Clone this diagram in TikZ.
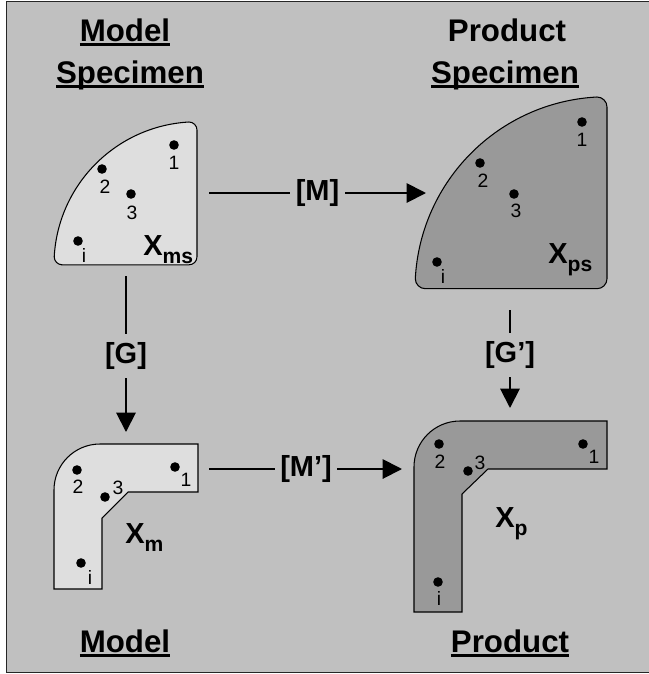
\documentclass[tikz,border=0pt]{standalone}
\usepackage{fontspec}
\setmainfont{Liberation Sans}
\usetikzlibrary{arrows.meta}
\definecolor{panelgray}{RGB}{192,192,192}
\definecolor{modelfill}{RGB}{222,222,222}
\definecolor{prodfill}{RGB}{153,153,153}
% underline drawn as a rule below the baseline
\newcommand{\ulin}[1]{\setbox0\hbox{#1}\rlap{\vrule height -1.3pt depth 2.9pt width \wd0}\box0}
% big X with a lowered index
\newcommand{\xlab}[1]{{\fontsize{16.5}{18}\selectfont X}\raisebox{-5pt}{\fontsize{12}{14}\selectfont #1}}
\begin{document}
\begin{tikzpicture}[x=0.02cm,y=-0.02cm,
  title/.style={font=\fontsize{17.8}{20}\selectfont\bfseries,inner sep=0pt,anchor=base},
  num/.style={font=\fontsize{11}{12}\selectfont,inner sep=0pt},
  xname/.style={font=\bfseries,inner sep=0pt,anchor=base west},
  outline/.style={draw=black,line width=0.6pt},
  flow/.style={line width=1.1pt,-{Triangle[length=11pt,width=11pt]}},
  tag/.style={font=\fontsize{16.5}{18}\selectfont\bfseries,fill=panelgray,
    inner xsep=3.1pt,inner ysep=4.8pt}]
  \useasboundingbox (0,0) rectangle (649,674);
  \filldraw[fill=panelgray,draw=black!85,line width=1pt] (6.5,1.5) rectangle (652,672.5);

  % headings
  \node[title] (mdlTop) at (125,41) {\ulin{Model}};
  \node[title] (mdlSpec) at (130,83) {\ulin{Specimen}};
  \node[title] (prdTop) at (507,41) {Product};
  \node[title] (prdSpec) at (505,83) {\ulin{Specimen}};
  \node[title] (mdlBot) at (125,652) {\ulin{Model}};
  \node[title] (prdBot) at (510,652) {\ulin{Product}};

  % model specimen (quarter disc)
  \filldraw[outline,fill=modelfill] (62.2,264.8) -- (189,264.8)
    arc[start angle=90,end angle=0,radius=8] -- (197,130)
    arc[start angle=0,end angle=-90,radius=8]
    arc[start angle=266.8,end angle=183.2,radius=143]
    arc[start angle=180,end angle=90,radius=8] -- cycle;
  \foreach \n/\dx/\dy/\lx/\ly in {1/174/145/174/163,2/102/169/105/187,
      3/131/194/132/213,i/78/241/84/255}{
    \fill (\dx,\dy) circle (4.8);
    \node[num] (ms-\n) at (\lx,\ly) {\n};
  }
  \node[xname] (Xms) at (143,255) {\xlab{ms}};

  % product specimen (quarter disc)
  \filldraw[outline,fill=prodfill] (425.3,288.7) -- (597,288.7)
    arc[start angle=90,end angle=0,radius=10] -- (607,107)
    arc[start angle=0,end angle=-90,radius=10]
    arc[start angle=267,end angle=183,radius=192]
    arc[start angle=180,end angle=90,radius=10] -- cycle;
  \foreach \n/\dx/\dy/\lx/\ly in {1/582/122/582/140,2/480/163/483/181,
      3/514/194/516/211,i/437/262/443/276}{
    \fill (\dx,\dy) circle (4.8);
    \node[num] (ps-\n) at (\lx,\ly) {\n};
  }
  \node[xname] (Xps) at (548,263) {\xlab{ps}};

  % model (L section)
  \filldraw[outline,fill=modelfill] (54,589) -- (54,490)
    arc[start angle=180,end angle=270,radius=46] -- (198,444) -- (198,492)
    -- (128,492) -- (102,518) -- (102,589) -- cycle;
  \foreach \n/\dx/\dy/\lx/\ly in {1/175/467/186/480,2/77/470/78/487,
      3/105/497/118/488,i/81/563/90/577}{
    \fill (\dx,\dy) circle (4.8);
    \node[num] (m-\n) at (\lx,\ly) {\n};
  }
  \node[xname] (Xm) at (125,543) {\xlab{m}};

  % product (L section)
  \filldraw[outline,fill=prodfill] (414,612) -- (414,467)
    arc[start angle=180,end angle=270,radius=46] -- (607,421) -- (607,469)
    -- (488,469) -- (462,494) -- (462,612) -- cycle;
  \foreach \n/\dx/\dy/\lx/\ly in {1/583/444/594/457,2/439/444/440/462,
      3/468/471/480/463,i/438/582/439/598}{
    \fill (\dx,\dy) circle (4.8);
    \node[num] (p-\n) at (\lx,\ly) {\n};
  }
  \node[xname] (Xp) at (495,527) {\xlab{p}};

  % mappings
  \coordinate (mA) at (209,193);
  \coordinate (mB) at (426,193);
  \coordinate (gA) at (126,276);
  \coordinate (gB) at (126,432);
  \coordinate (hA) at (510,310);
  \coordinate (hB) at (510,408);
  \coordinate (nA) at (209,469);
  \coordinate (nB) at (402,469);
  \draw[flow] (mA) -- node[tag] (M) {[M]} (mB);
  \draw[flow] (gA) -- node[tag,pos=0.513] (G) {[G]} (gB);
  \draw[flow] (hA) -- node[tag,pos=0.46] (Gp) {[G’]} (hB);
  \draw[flow] (nA) -- node[tag,pos=0.503] (Mp) {[M’]} (nB);
\end{tikzpicture}
\end{document}
